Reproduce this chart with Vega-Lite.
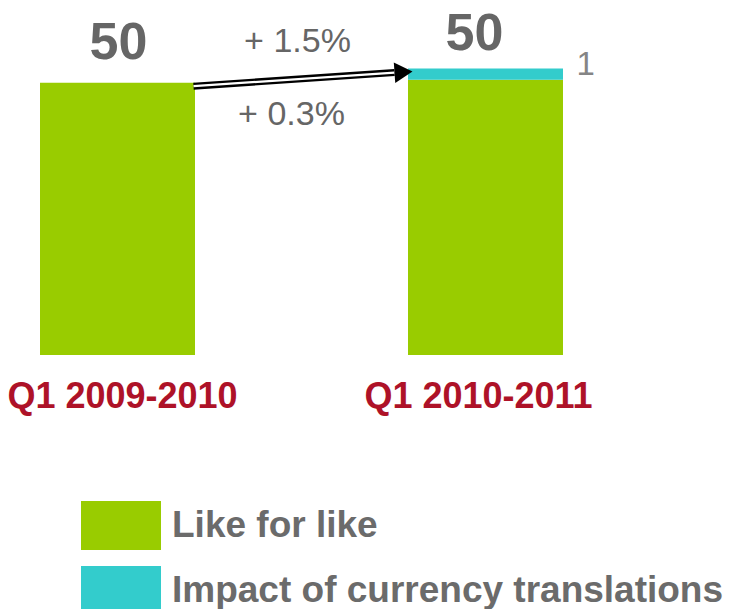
{
  "$schema": "https://vega.github.io/schema/vega-lite/v6.json",
  "width": 603,
  "height": 355,
  "autosize": {"type": "none"},
  "padding": {"left": 0, "top": 0, "right": 127, "bottom": 254},
  "background": "white",
  "config": {"view": {"stroke": null}, "font": "Liberation Sans"},
  "datasets": {
    "bars": [
      {"period": "Q1 2009-2010", "component": "Like for like", "value": 49.6, "order": 1},
      {"period": "Q1 2010-2011", "component": "Like for like", "value": 49.75, "order": 1},
      {"period": "Q1 2010-2011", "component": "Impact of currency translations", "value": 0.55, "order": 2}
    ],
    "totals": [
      {"period": "Q1 2009-2010", "total": 49.6, "label": "50"},
      {"period": "Q1 2010-2011", "total": 50.3, "label": "50"}
    ],
    "changes": [
      {"period": "Q1 2009-2010", "anchor": 50.3, "label": "+ 1.5%", "kind": "total"},
      {"period": "Q1 2009-2010", "anchor": 49.6, "label": "+ 0.3%", "kind": "like"}
    ],
    "currency": [
      {"period": "Q1 2010-2011", "top": 50.3, "label": "1"}
    ],
    "arrow": [
      {"period": "Q1 2009-2010", "to": "Q1 2010-2011", "fromValue": 49.6, "toValue": 50.3}
    ]
  },
  "layer": [
    {
      "data": {"name": "bars"},
      "mark": {"type": "bar"},
      "encoding": {
        "x": {
          "field": "period", "type": "nominal", "title": null,
          "scale": {"domain": ["Q1 2009-2010", "Q1 2010-2011"], "paddingInner": 0.5788, "paddingOuter": 0.1087},
          "axis": {"domain": false, "ticks": false, "labelAngle": 0, "labelFont": "Liberation Sans", "labelFontSize": 36, "labelFontWeight": "bold", "labelColor": "#AE1228", "labelPadding": 24, "labelLimit": 0, "labelBound": false, "labelOverlap": false, "grid": false,
            "labelOffset": {"condition": {"test": "datum.value == 'Q1 2009-2010'", "value": 5}, "value": -7}}
        },
        "y": {"field": "value", "type": "quantitative", "stack": "zero", "title": null, "scale": {"domain": [36.1, 53.7], "nice": false, "zero": false, "clamp": true}, "axis": null},
        "color": {
          "field": "component", "type": "nominal",
          "scale": {"domain": ["Like for like", "Impact of currency translations"], "range": ["#99CC00", "#33CCCC"]},
          "legend": {"title": null, "orient": "none", "legendX": 81, "legendY": 485.5, "direction": "vertical", "symbolType": "M-1,-0.6125H1V0.6125H-1Z", "symbolSize": 6400, "symbolStrokeWidth": 0, "symbolOpacity": 1, "labelFont": "Liberation Sans", "labelFontSize": 37, "labelFontWeight": "bold", "labelColor": "#6B6B6B", "labelOffset": 11, "labelLimit": 0, "rowPadding": -20, "padding": 0}
        },
        "order": {"field": "order", "type": "quantitative"}
      }
    },
    {
      "data": {"name": "totals"},
      "transform": [{"filter": "datum.period == 'Q1 2009-2010'"}],
      "mark": {"type": "text", "font": "Liberation Sans", "fontSize": 52, "fontWeight": "bold", "color": "#666666", "baseline": "alphabetic", "align": "center", "dx": 1, "dy": -24},
      "encoding": {
        "x": {"field": "period", "type": "nominal", "title": null},
        "y": {"field": "total", "type": "quantitative", "title": null},
        "text": {"field": "label"}
      }
    },
    {
      "data": {"name": "totals"},
      "transform": [{"filter": "datum.period == 'Q1 2010-2011'"}],
      "mark": {"type": "text", "font": "Liberation Sans", "fontSize": 52, "fontWeight": "bold", "color": "#666666", "baseline": "alphabetic", "align": "center", "dx": -11, "dy": -19},
      "encoding": {
        "x": {"field": "period", "type": "nominal", "title": null},
        "y": {"field": "total", "type": "quantitative", "title": null},
        "text": {"field": "label"}
      }
    },
    {
      "data": {"name": "changes"},
      "transform": [{"filter": "datum.kind == 'total'"}],
      "mark": {"type": "text", "font": "Liberation Sans", "fontSize": 34, "color": "#666666", "baseline": "alphabetic", "align": "center", "dx": 180, "dy": -17},
      "encoding": {
        "x": {"field": "period", "type": "nominal", "title": null},
        "y": {"field": "anchor", "type": "quantitative", "title": null},
        "text": {"field": "label"}
      }
    },
    {
      "data": {"name": "changes"},
      "transform": [{"filter": "datum.kind == 'like'"}],
      "mark": {"type": "text", "font": "Liberation Sans", "fontSize": 34, "color": "#666666", "baseline": "alphabetic", "align": "center", "dx": 174, "dy": 42},
      "encoding": {
        "x": {"field": "period", "type": "nominal", "title": null},
        "y": {"field": "anchor", "type": "quantitative", "title": null},
        "text": {"field": "label"}
      }
    },
    {
      "data": {"name": "currency"},
      "mark": {"type": "text", "font": "Liberation Sans", "fontSize": 33, "color": "#858585", "baseline": "alphabetic", "align": "left", "dx": 91, "dy": 6},
      "encoding": {
        "x": {"field": "period", "type": "nominal", "title": null},
        "y": {"field": "top", "type": "quantitative", "title": null},
        "text": {"field": "label"}
      }
    },
    {
      "data": {"name": "arrow"},
      "mark": {"type": "rule", "color": "black", "strokeWidth": 7, "xOffset": 76, "x2Offset": -91, "yOffset": 3.5, "y2Offset": 4},
      "encoding": {
        "x": {"field": "period", "type": "nominal", "title": null},
        "x2": {"field": "to"},
        "y": {"field": "fromValue", "type": "quantitative", "title": null},
        "y2": {"field": "toValue"}
      }
    },
    {
      "data": {"name": "arrow"},
      "mark": {"type": "rule", "color": "white", "strokeWidth": 2.2, "xOffset": 76, "x2Offset": -91, "yOffset": 3.5, "y2Offset": 4},
      "encoding": {
        "x": {"field": "period", "type": "nominal", "title": null},
        "x2": {"field": "to"},
        "y": {"field": "fromValue", "type": "quantitative", "title": null},
        "y2": {"field": "toValue"}
      }
    },
    {
      "data": {"name": "arrow"},
      "mark": {"type": "point", "shape": "M-1,-1.15L1,0L-1,1.15Z", "size": 324, "filled": true, "color": "black", "opacity": 1, "angle": -4, "xOffset": -82, "yOffset": 3.5},
      "encoding": {
        "x": {"field": "to", "type": "nominal", "title": null},
        "y": {"field": "toValue", "type": "quantitative", "title": null}
      }
    }
  ]
}
